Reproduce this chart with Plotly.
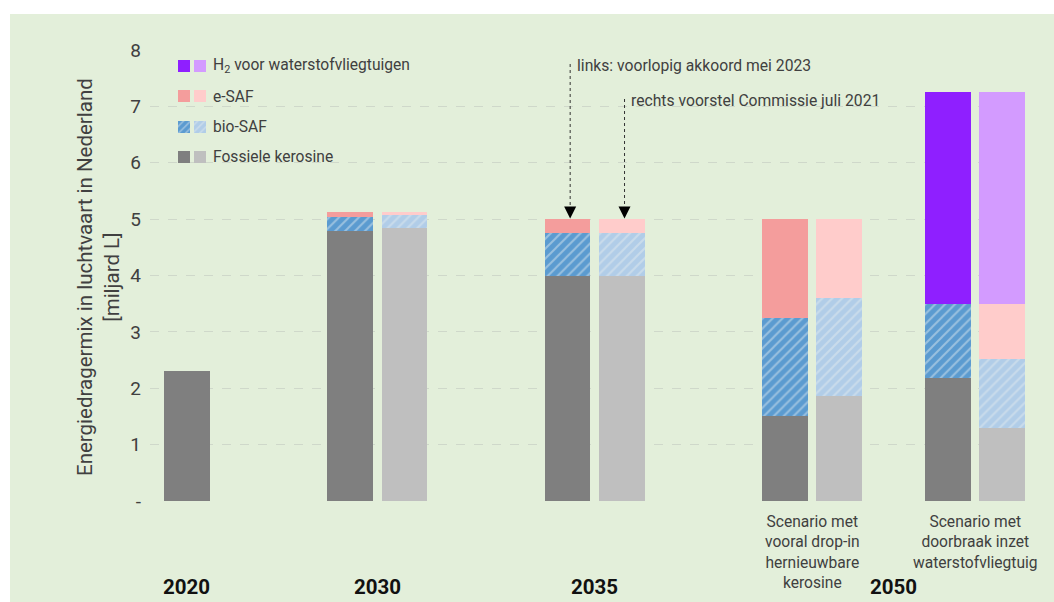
import plotly.graph_objects as go

# Bar categories (left = voorlopig akkoord mei 2023, right = voorstel Commissie juli 2021)
bar_names = ["2020",
             "2030 links", "2030 rechts",
             "2035 links", "2035 rechts",
             "2050 drop-in links", "2050 drop-in rechts",
             "2050 waterstof links", "2050 waterstof rechts"]

# Values in miljard L per bar, per energy carrier
left_bars = ["2020", "2030 links", "2035 links", "2050 drop-in links", "2050 waterstof links"]
right_bars = ["2030 rechts", "2035 rechts", "2050 drop-in rechts", "2050 waterstof rechts"]

fossil_left = [2.30, 4.79, 4.00, 1.50, 2.19]
bio_left = [0.00, 0.24, 0.75, 1.74, 1.31]
esaf_left = [0.00, 0.10, 0.25, 1.76, 0.00]
h2_left = [0.00, 0.00, 0.00, 0.00, 3.75]

fossil_right = [4.85, 4.00, 1.86, 1.29]
bio_right = [0.23, 0.75, 1.74, 1.23]
esaf_right = [0.05, 0.25, 1.40, 0.98]
h2_right = [0.00, 0.00, 0.00, 3.75]

year_labels = ["2020", "2030", "2035", "2050"]
scenario_labels = ["Scenario met<br>vooral drop-in<br>hernieuwbare<br>kerosine",
                   "Scenario met<br>doorbraak inzet<br>waterstofvliegtuig"]
legend_labels = ["H<sub>2</sub> voor waterstofvliegtuigen", "e-SAF", "bio-SAF", "Fossiele kerosine"]
y_ticks = [0, 1, 2, 3, 4, 5, 6, 7, 8]
y_ticktext = ["-", "1", "2", "3", "4", "5", "6", "7", "8"]

# Category order on the x axis, with empty spacer slots between the years
category_order = ["2020", " ", "  ",
                  "2030 links", "2030 rechts", "   ", "    ",
                  "2035 links", "2035 rechts", "     ", "      ",
                  "2050 drop-in links", "2050 drop-in rechts", "       ",
                  "2050 waterstof links", "2050 waterstof rechts"]

FONT = "Roboto"
TXT = "#404040"
BG = "#E3EFDA"

# colours: (dark = left bar, light = right bar)
C_FOSSIL = ("#7F7F7F", "#BFBFBF")
C_BIO = ("#5B9BD0", "#B1CDE8")
C_BIO_FG = ("#D9E6EE", "#E2EAEE")
C_ESAF = ("#F49D9C", "#FFCCCB")
C_H2 = ("#8F1FFF", "#D39BFF")

BAR_W = 0.84

fig = go.Figure()


def add_series(xs, ys, color, fg=None):
    pattern = None
    if fg is not None:
        pattern = dict(shape="/", fgcolor=fg, bgcolor=color, size=7, solidity=0.28)
    fig.add_trace(go.Bar(
        x=xs, y=ys, width=[BAR_W] * len(xs),
        marker=dict(color=color, line=dict(width=0), pattern=pattern),
        hoverinfo="skip", showlegend=False))


# stacked from bottom to top: fossil, bio-SAF, e-SAF, H2
add_series(left_bars, fossil_left, C_FOSSIL[0])
add_series(right_bars, fossil_right, C_FOSSIL[1])
add_series(left_bars, bio_left, C_BIO[0], C_BIO_FG[0])
add_series(right_bars, bio_right, C_BIO[1], C_BIO_FG[1])
add_series(left_bars, esaf_left, C_ESAF[0])
add_series(right_bars, esaf_right, C_ESAF[1])
add_series(left_bars, h2_left, C_H2[0])
add_series(right_bars, h2_right, C_H2[1])

# Legend swatches drawn as small bars on their own axes (rows: H2, e-SAF, bio-SAF, fossil)
swatch_colors = [C_H2, C_ESAF, C_BIO, C_FOSSIL]
for i, cols in enumerate(swatch_colors):
    row = 3 - i
    for col in (0, 1):
        pat = None
        if cols is C_BIO:
            pat = dict(shape="/", fgcolor=C_BIO_FG[col], bgcolor=cols[col], size=5, solidity=0.3)
        fig.add_trace(go.Bar(
            x=[col], y=[0.4], base=[row - 0.2], width=[0.75],
            marker=dict(color=cols[col], line=dict(width=0), pattern=pat),
            xaxis="x2", yaxis="y2", hoverinfo="skip", showlegend=False))

W, H = 1054, 602
L, R, T, B = 150, 24, 50, 101
pw, ph = W - L - R, H - T - B


def px_x(p):
    return (p - L) / pw


def px_y(p):
    return (H - B - p) / ph


def data_y(p):
    return (H - B - p) / ph * 8


annotations = []
shapes = []

# green panel behind the chart
shapes.append(dict(type="rect", xref="paper", yref="paper",
                   x0=px_x(10), x1=px_x(1054), y0=px_y(602), y1=px_y(14),
                   fillcolor=BG, line=dict(width=0), layer="below"))

# y axis title
annotations.append(dict(text="Energiedragermix in luchtvaart in Nederland<br>[miljard L]",
                        xref="paper", yref="paper", x=px_x(98), y=px_y(277),
                        textangle=-90, showarrow=False, xanchor="center", yanchor="middle",
                        font=dict(family=FONT, size=20.5, color=TXT)))

# legend texts
legend_rows_px = [66, 97, 127, 157]
for lab, ypx in zip(legend_labels, legend_rows_px):
    annotations.append(dict(text=lab, xref="paper", yref="paper", x=px_x(211), y=px_y(ypx),
                            xanchor="left", yanchor="middle", showarrow=False,
                            font=dict(family=FONT, size=15.6, color=TXT)))

# year labels below the axis
year_pos = [0, 3.5, 7.5, 13]
for lab, xp in zip(year_labels, year_pos):
    annotations.append(dict(text="<b>" + lab + "</b>", xref="x", yref="paper", x=xp, y=px_y(587),
                            xanchor="center", yanchor="middle", showarrow=False,
                            font=dict(family=FONT, size=20.5, color="#111111")))

# scenario descriptions for 2050
for lab, xp in zip(scenario_labels, [11.5, 14.5]):
    annotations.append(dict(text=lab, xref="x", yref="paper", x=xp, y=px_y(511),
                            xanchor="center", yanchor="top", showarrow=False, align="center",
                            font=dict(family=FONT, size=15.6, color=TXT)))

# pointers to the 2035 bars
pointers = [("links: voorlopig akkoord mei 2023", 7.05, 65),
            ("rechts voorstel Commissie juli 2021", 8.05, 100)]
for text, xp, top_px in pointers:
    annotations.append(dict(text=text, xref="x", yref="y", x=xp + 0.08, y=data_y(top_px),
                            xanchor="left", yanchor="middle", showarrow=False,
                            font=dict(family=FONT, size=15.7, color=TXT)))
    shapes.append(dict(type="line", xref="x", yref="y", x0=xp, x1=xp,
                       y0=data_y(top_px - 1), y1=data_y(211),
                       line=dict(color="#333333", width=1, dash="dot")))
    annotations.append(dict(text="", xref="x", yref="y", x=xp, y=data_y(218.5),
                            ax=0, ay=-9, showarrow=True, arrowhead=2, arrowsize=1.6,
                            arrowwidth=1.5, arrowcolor="#000000", standoff=0))

fig.update_layout(
    width=W, height=H,
    margin=dict(l=L, r=R, t=T, b=B, pad=0),
    paper_bgcolor="#FFFFFF",
    plot_bgcolor="rgba(0,0,0,0)",
    barmode="stack",
    showlegend=False,
    hovermode=False,
    font=dict(family=FONT, color=TXT),
    xaxis=dict(type="category", categoryorder="array", categoryarray=category_order,
               range=[-0.68, 15.51], showticklabels=False, showgrid=False,
               zeroline=False, showline=False, ticks=""),
    yaxis=dict(range=[0, 8], tickvals=y_ticks, ticktext=y_ticktext,
               showgrid=True, gridcolor="#CFD8CA", griddash="dash", gridwidth=1,
               zeroline=False, showline=False, ticks="", ticklabelstandoff=8,
               tickfont=dict(family=FONT, size=19, color=TXT)),
    xaxis2=dict(domain=[px_x(176), px_x(208)], range=[-0.5, 1.5], anchor="y2",
                visible=False, fixedrange=True),
    yaxis2=dict(domain=[px_y(172.2), px_y(50.8)], range=[-0.5, 3.5], anchor="x2",
                visible=False, fixedrange=True),
    annotations=annotations,
    shapes=shapes,
)

fig.write_html("out.html")
